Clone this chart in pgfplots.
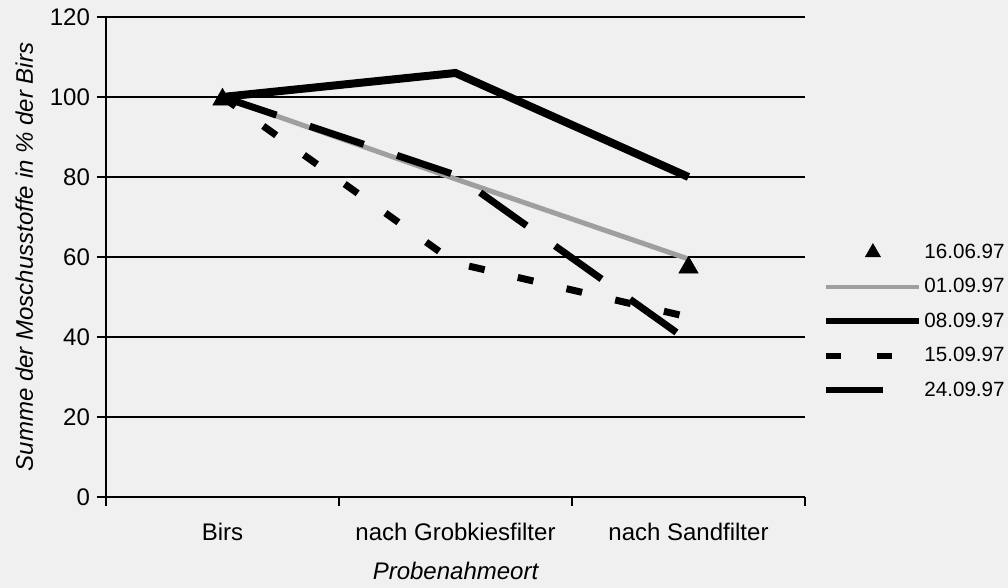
\documentclass[border=0pt]{standalone}
\usepackage{fontspec}
\setmainfont{Liberation Sans}
\usepackage{pgfplots}
\pgfplotsset{compat=1.18}
\usetikzlibrary{backgrounds}
\begin{document}
\begin{tikzpicture}
\begin{axis}[
  name=ax,
  scale only axis,
  width=349.5pt, height=240pt,
  xmin=-0.5, xmax=2.5, ymin=0, ymax=120,
  axis lines=left,
  axis line style={-, line width=1pt},
  xtick={-0.5,0.5,1.5,2.5},
  xticklabels={},
  extra x ticks={0,1,2},
  extra x tick labels={Birs, nach Grobkiesfilter, nach Sandfilter},
  extra x tick style={major tick length=0pt},
  ytick={0,20,...,120},
  ymajorgrids,
  grid style={black, line width=0.8pt},
  tick align=outside,
  major tick length=4.5pt,
  tick style={black, line width=1pt},
  /pgf/number format/assume math mode=true,
  tick label style={font=\fontsize{12}{14}\selectfont},
  xticklabel style={yshift=-9.5pt},
  xlabel={Probenahmeort},
  ylabel={Summe der Moschusstoffe in \% der Birs},
  xlabel style={yshift=-1.5pt, inner ysep=1pt},
  ylabel style={yshift=1.5pt},
  label style={font=\fontsize{12}{14}\selectfont\itshape},
  legend image code/.code={\draw[mark repeat=2,mark phase=2] plot coordinates {(0pt,0pt) (23.25pt,0pt) (46.5pt,0pt)};},
  legend style={draw=none, fill=none, inner sep=0pt,
    at={(1.0258,0.366)}, anchor=west,
    font=\fontsize{10.3}{12}\selectfont,
    row sep=5.2pt,
    nodes={inner xsep=1pt, inner ysep=0pt, text height=9pt, text depth=3pt},
    /tikz/every odd column/.style={column sep=0pt}},
  legend cell align=left,
]
\addplot[forget plot, gray!75, line width=2.5pt] coordinates {(0,100) (1,79.5) (2,59.5)};
\addplot[forget plot, black, line width=3.5pt, dash pattern=on 8pt off 17pt] coordinates {(0,100) (1,58.5) (2,45)};
\addplot[forget plot, black, line width=3.5pt, dash pattern=on 28.5pt off 17.5pt] coordinates {(0,100) (1,80.5) (2,39)};
\addplot[forget plot, black, line width=4pt] coordinates {(0,100) (1,106) (2,80)};
\addplot[forget plot, only marks, mark=triangle*, mark size=5.5pt, mark options={fill=black, yshift=-1.3pt}] coordinates {(0,100) (2,58)};
\addlegendimage{only marks, mark=triangle*, mark size=4.3pt, mark options={fill=black}}
\addlegendentry{16.06.97}
\addlegendimage{gray!75, line width=2pt}
\addlegendentry{01.09.97}
\addlegendimage{black, line width=3pt}
\addlegendentry{08.09.97}
\addlegendimage{black, line width=3pt, dash pattern=on 7.5pt off 18pt}
\addlegendentry{15.09.97}
\addlegendimage{black, line width=3pt, dash pattern=on 28.5pt off 18.5pt}
\addlegendentry{24.09.97}
\end{axis}
\pgfresetboundingbox
\path[use as bounding box] ([shift={(-53pt,-45.5pt)}]ax.south west) rectangle ++(504pt,294pt);
\begin{scope}[on background layer]
\fill[black!6] ([shift={(-53pt,-45.5pt)}]ax.south west) rectangle ++(504pt,294pt);
\end{scope}
\end{tikzpicture}
\end{document}
